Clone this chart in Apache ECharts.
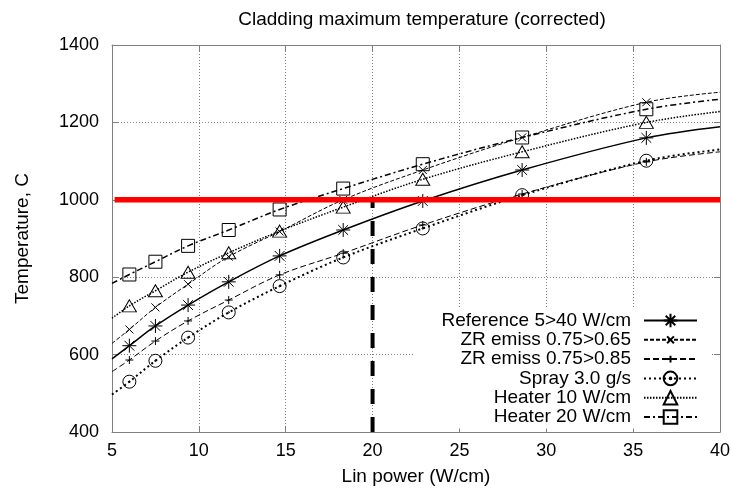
<!DOCTYPE html>
<html><head><meta charset="utf-8">
<script src="https://cdn.jsdelivr.net/npm/echarts@6/dist/echarts.min.js"></script>
<style>html,body{margin:0;padding:0;background:#fff}#c{width:733px;height:495px}</style>
</head><body><div id="c"></div>
<script>
// ---- data ----
const linPower  = [5, 6, 7.5, 9.38, 11.72, 14.65, 18.31, 22.89, 28.61, 35.76, 40];
const reference = [589, 623, 674, 728, 788, 855, 922, 997, 1077, 1160, 1189];
const zr065     = [629, 665, 722, 782, 853, 918, 1000, 1077, 1161, 1252, 1278];
const zr085     = [556, 586, 635, 687, 741, 806, 862, 935, 1015, 1098, 1124];
const spray     = [497, 530, 584, 644, 709, 777, 851, 926, 1012, 1101, 1130];
const heater10  = [694, 726, 765, 813, 863, 919, 981, 1053, 1124, 1200, 1228];
const heater20  = [784, 807, 840, 881, 922, 975, 1029, 1092, 1161, 1234, 1260];
const seriesNames = ['Reference 5>40 W/cm', 'ZR emiss 0.75>0.65', 'ZR emiss 0.75>0.85',
                     'Spray 3.0 g/s', 'Heater 10 W/cm', 'Heater 20 W/cm'];
const limitX = [5.15, 40];
const limitT = [1000, 1000];
const markX = [20, 20];
const markT = [400, 1000];
const xMin = 5, xMax = 40, xStep = 5;
const yMin = 400, yMax = 1400, yStep = 200;

// ---- styling ----
const FONT = '"Liberation Sans", Arial, sans-serif';
const SYM = {
  star:   'path://M0,5L10,5M5,0L5,10M1.5,1.5L8.5,8.5M8.5,1.5L1.5,8.5',
  cross:  'path://M0,0M20,20M5,5L15,15M15,5L5,15',
  plus:   'path://M0,0M20,20M10,5L10,15M5,10L15,10',
  circle: 'path://M10,5A5,5,0,1,1,0,5A5,5,0,1,1,10,5ZM5.6,5A0.6,0.6,0,1,1,4.4,5A0.6,0.6,0,1,1,5.6,5Z',
  tri:    'path://M5,0L10,8.66L0,8.66Z',
  rect:   'path://M0,0L10,0L10,10L0,10Z'
};

function mk(name, vals, sym, size, lw, dash) {
  return {
    name: name, type: 'line', smooth: 0.35,
    data: linPower.map(function (x, i) {
      const it = { value: [x, vals[i]] };
      if (i === 0 || i === linPower.length - 1) it.symbol = 'none';
      return it;
    }),
    symbol: sym, symbolSize: size, showSymbol: true, showAllSymbol: true,
    color: '#000',
    lineStyle: { color: '#000', width: lw, type: dash },
    itemStyle: { color: 'rgba(0,0,0,0)', borderColor: '#000', borderWidth: 1 },
    emphasis: { disabled: true }, z: 3, animation: false
  };
}

const axisGray = '#808080';
const plain = function (v) { return String(v); };
const chart = echarts.init(document.getElementById('c'));
chart.setOption({
  animation: false,
  backgroundColor: '#fff',
  title: {
    text: 'Cladding maximum temperature (corrected)',
    left: 417, textAlign: 'center', top: 5,
    textStyle: { fontFamily: FONT, fontSize: 19, fontWeight: 'normal', color: '#000' }
  },
  grid: { left: 112, right: 11, top: 45, bottom: 63 },
  xAxis: [{
    type: 'value', min: xMin, max: xMax, interval: xStep, position: 'bottom',
    name: 'Lin power (W/cm)', nameLocation: 'middle', nameGap: 35,
    nameTextStyle: { fontFamily: FONT, fontSize: 19, color: '#000' },
    axisLine: { show: true, onZero: false, lineStyle: { color: axisGray } },
    axisTick: { show: true, inside: true, length: 6, lineStyle: { color: axisGray } },
    axisLabel: { fontFamily: FONT, fontSize: 18, color: '#000', margin: 10, formatter: plain },
    splitLine: { show: true, lineStyle: { color: axisGray, type: [1, 2] } }
  }, {
    type: 'value', min: xMin, max: xMax, interval: xStep, position: 'top',
    axisLine: { show: true, onZero: false, lineStyle: { color: axisGray } },
    axisTick: { show: true, inside: true, length: 6, lineStyle: { color: axisGray } },
    axisLabel: { show: false }, splitLine: { show: false }
  }],
  yAxis: [{
    type: 'value', min: yMin, max: yMax, interval: yStep, position: 'left',
    name: 'Temperature, C', nameLocation: 'middle', nameGap: 80, nameRotate: 90,
    nameTextStyle: { fontFamily: FONT, fontSize: 19, color: '#000' },
    axisLine: { show: true, onZero: false, lineStyle: { color: axisGray } },
    axisTick: { show: true, inside: true, length: 6, lineStyle: { color: axisGray } },
    axisLabel: { fontFamily: FONT, fontSize: 18, color: '#000', margin: 13, formatter: plain },
    splitLine: { show: true, lineStyle: { color: axisGray, type: [1, 2] } }
  }, {
    type: 'value', min: yMin, max: yMax, interval: yStep, position: 'right',
    axisLine: { show: true, onZero: false, lineStyle: { color: axisGray } },
    axisTick: { show: true, inside: true, length: 6, lineStyle: { color: axisGray } },
    axisLabel: { show: false }, splitLine: { show: false }
  }],
  legend: {
    orient: 'vertical', align: 'right', right: 21, top: 308,
    padding: [3, 14, 2, 28], backgroundColor: '#fff',
    itemWidth: 53, itemHeight: 17, itemGap: 0.3, selectedMode: false,
    textStyle: { fontFamily: FONT, fontSize: 19, color: '#000', padding: [0, 8, 0, 0] },
    data: seriesNames
  },
  series: [
    mk(seriesNames[0], reference, SYM.star, 14, 1.5, 'solid'),
    mk(seriesNames[1], zr065, SYM.cross, 16, 1, [4, 2]),
    mk(seriesNames[2], zr085, SYM.plus, 16, 1, [6, 3]),
    mk(seriesNames[3], spray, SYM.circle, 13, 2, [2, 3]),
    mk(seriesNames[4], heater10, SYM.tri, [14, 12], 1.5, [1.5, 1.5]),
    mk(seriesNames[5], heater20, SYM.rect, 13, 1.5, [6, 3, 2, 3]),
    {
      name: 'marker20', type: 'line', symbol: 'none', z: 4, animation: false,
      data: markX.map(function (x, i) { return [x, markT[i]]; }),
      lineStyle: { color: '#000', width: 4, type: [15, 13] }, emphasis: { disabled: true }
    },
    {
      name: 'limit', type: 'line', symbol: 'none', z: 5, animation: false,
      data: limitX.map(function (x, i) { return [x, limitT[i]]; }),
      lineStyle: { color: '#ff0000', width: 5.5 }, emphasis: { disabled: true }
    }
  ]
});
</script></body></html>
